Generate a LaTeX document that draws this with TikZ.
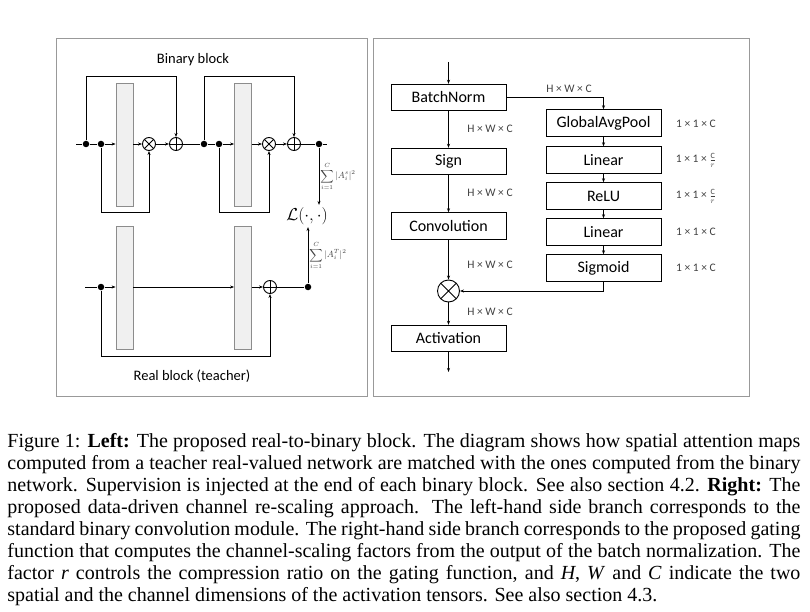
\documentclass[tikz,border=0pt]{standalone}
\usepackage{amsmath, amssymb}
\usepackage{fontspec}
\setmainfont{Carlito}
\newfontfamily\capfont{Liberation Serif}
\usetikzlibrary{arrows.meta}

\tikzset{
  panel/.style={draw=black!40, line width=1pt},
  bar/.style={draw=black!45, fill=black!6, line width=0.8pt, minimum width=17pt, minimum height=123pt, inner sep=0pt},
  dot/.style={circle, fill=black, inner sep=0pt, minimum size=6.5pt},
  otimes/.style={circle, draw, line width=0.9pt, minimum size=13pt, inner sep=0pt,
    path picture={\draw[line width=0.9pt] (path picture bounding box.north west) -- (path picture bounding box.south east)
      (path picture bounding box.north east) -- (path picture bounding box.south west);}},
  oplus/.style={circle, draw, line width=0.9pt, minimum size=13pt, inner sep=0pt,
    path picture={\draw[line width=0.9pt] (path picture bounding box.north) -- (path picture bounding box.south)
      (path picture bounding box.east) -- (path picture bounding box.west);}},
  layer/.style={draw, line width=0.9pt, minimum width=115pt, minimum height=26.5pt, inner sep=0pt, font=\fontsize{16}{18}\selectfont},
  title/.style={font=\fontsize{14.5}{16}\selectfont},
  dimlabel/.style={font=\fontsize{11.5}{13}\selectfont, text=black!75},
  sumlabel/.style={font=\fontsize{9}{10}\selectfont, text=black!75, inner sep=1pt},
}

\begin{document}
\begin{tikzpicture}[x=1pt, y=-1pt, line width=0.9pt, >={Stealth[length=4pt, width=3pt]}]
    \useasboundingbox (0,0) rectangle (810,612);

    % left panel: real-to-binary block
    \draw[panel] (56,39) rectangle (367,396);
    \node[title] (bintitle) at (193,60) {Binary block};

    \coordinate (in1) at (76,144);
    \node[dot] (d1) at (86,144) {};
    \node[dot] (d2) at (101,144) {};
    \node[bar] (b1) at (124.5,144.5) {};
    \node[otimes] (m1) at (149,144) {};
    \node[oplus] (p1) at (176,144) {};
    \node[dot] (d3) at (204,144) {};
    \node[dot] (d4) at (219,144) {};
    \node[bar] (b2) at (243,144.5) {};
    \node[otimes] (m2) at (269,144) {};
    \node[oplus] (p2) at (294,144) {};
    \node[dot] (d5) at (319,144) {};
    \coordinate (out1) at (327,144);

    \draw (in1) -- (d1) -- (d2);
    \draw[->] (d2) -- (b1.west |- d2);
    \draw[->] (b1.east |- m1) -- (m1);
    \draw[->] (m1) -- (p1);
    \draw (p1) -- (d3) -- (d4);
    \draw[->] (d4) -- (b2.west |- d4);
    \draw[->] (b2.east |- m2) -- (m2);
    \draw[->] (m2) -- (p2);
    \draw (p2) -- (d5) -- (out1);
    \draw[->] (d1) -- ++(0,-68) -| (p1);
    \draw[->] (d2) -- ++(0,68) -| (m1);
    \draw[->] (d3) -- ++(0,-68) -| (p2);
    \draw[->] (d4) -- ++(0,68) -| (m2);

    \node[inner xsep=0pt, inner ysep=2pt, font=\fontsize{16}{18}\selectfont] (loss) at (307,216) {$\mathcal{L}(\cdot,\cdot)$};

    \coordinate (in2) at (85,287);
    \node[dot] (d6) at (101,287) {};
    \node[bar] (b3) at (124.5,288) {};
    \node[bar] (b4) at (243,288) {};
    \node[oplus] (p3) at (270,287) {};
    \node[dot] (d7) at (308,287) {};

    \draw (in2) -- (d6);
    \draw[->] (d6) -- (b3.west |- d6);
    \draw[->] (b3.east |- d6) -- (b4.west |- d6);
    \draw[->] (b4.east |- p3) -- (p3);
    \draw (p3) -- (d7);
    \draw[->] (d6) -- ++(0,69) -| (p3);

    \draw[->] (d5) -- (d5 |- loss.north) node[midway, right, sumlabel] {$\displaystyle\sum_{i=1}^{C}|A_i^{s}|^2$};
    \draw[->] (d7) -- (d7 |- loss.south) node[midway, right, sumlabel] {$\displaystyle\sum_{i=1}^{C}|A_i^{T}|^2$};

    \node[title] (realtitle) at (192,376) {Real block (teacher)};

    % right panel: channel re-scaling
    \draw[panel] (373,39) rectangle (749,396);
    \coordinate (top) at (448.5,62);
    \node[layer] (bn) at (448.5,97.5) {BatchNorm};
    \node[layer] (sign) at (448.5,161.5) {Sign};
    \node[layer] (conv) at (448.5,226) {Convolution};
    \node[otimes, minimum size=22pt] (mul) at (448.5,291) {};
    \node[layer] (act) at (448.5,338.5) {Activation};
    \coordinate (bottom) at (448.5,372);

    \node[layer] (gap) at (603.5,123) {GlobalAvgPool};
    \node[layer] (lin1) at (603.5,160) {Linear};
    \node[layer] (relu) at (603.5,196) {ReLU};
    \node[layer] (lin2) at (603.5,232) {Linear};
    \node[layer] (sig) at (603.5,268) {Sigmoid};

    \draw[->] (top) -- (bn);
    \draw[->] (bn) -- (sign);
    \draw[->] (sign) -- (conv);
    \draw[->] (conv) -- (mul);
    \draw[->] (mul) -- (act);
    \draw[->] (act) -- (bottom);
    \draw[->] (bn.east) -| (gap.north);
    \draw[->] (gap) -- (lin1);
    \draw[->] (lin1) -- (relu);
    \draw[->] (relu) -- (lin2);
    \draw[->] (lin2) -- (sig);
    \draw[->] (sig.south) |- (mul.east);

    \node[dimlabel] (hwc0) at (569,89) {H × W × C};
    \node[dimlabel] (hwc1) at (490,129) {H × W × C};
    \node[dimlabel] (hwc2) at (490,193) {H × W × C};
    \node[dimlabel] (hwc3) at (490,265) {H × W × C};
    \node[dimlabel] (hwc4) at (490,312) {H × W × C};

    \node[dimlabel] (dim1) at (696,124) {1 × 1 × C};
    \node[dimlabel] (dim2) at (696,160) {1 × 1 × $\frac{\mathrm{C}}{r}$};
    \node[dimlabel] (dim3) at (696,196) {1 × 1 × $\frac{\mathrm{C}}{r}$};
    \node[dimlabel] (dim4) at (696,232) {1 × 1 × C};
    \node[dimlabel] (dim5) at (696,268) {1 × 1 × C};

    % caption
    \node[anchor=north west, inner sep=0pt, text width=793pt, align=justify,
          font=\capfont\fontsize{20}{22}\selectfont] (caption) at (7,432.5)
    {Figure 1: \textbf{Left:} The proposed real-to-binary block. The diagram shows how spatial attention maps\linebreak
     computed from a teacher real-valued network are matched with the ones computed from the binary\linebreak
     network. Supervision is injected at the end of each binary block. See also section 4.2. \textbf{Right:} The\linebreak
     proposed data-driven channel re-scaling approach. The left-hand side branch corresponds to the\linebreak
     standard binary convolution module. The right-hand side branch corresponds to the proposed gating\linebreak
     function that computes the channel-scaling factors from the output of the batch normalization. The\linebreak
     factor \textit{r} controls the compression ratio on the gating function, and \textit{H}, \textit{W} and \textit{C} indicate the two\linebreak
     spatial and the channel dimensions of the activation tensors. See also section 4.3.};
\end{tikzpicture}
\end{document}
